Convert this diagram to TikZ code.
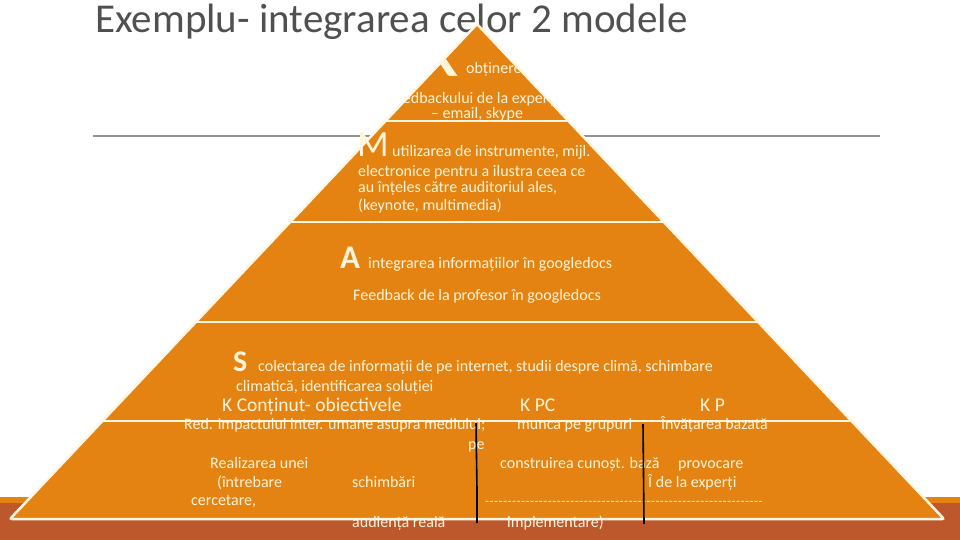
\documentclass[tikz,border=0pt]{standalone}
\usepackage{fontspec}
\setmainfont{Carlito}
\newcommand\myfs[1]{\fontsize{#1}{#1}\selectfont}
\definecolor{pyr}{HTML}{E48312}
\definecolor{bandred}{HTML}{BD582C}
\definecolor{cream}{HTML}{FFF4D8}
\definecolor{outl}{HTML}{FFF7E2}
\definecolor{titlegray}{HTML}{505050}
\tikzset{
  ptxt/.style={inner sep=0pt, anchor=base west, text=cream, font=\myfs{16}},
  bigl/.style={ptxt, font=\myfs{#1}},
  bigb/.style={ptxt, font=\myfs{#1}\bfseries},
  ktxt/.style={ptxt, font=\myfs{19.5}},
  sepline/.style={outl, line width=2.5pt},
  divider/.style={black, line width=1.6pt},
}
\begin{document}
\begin{tikzpicture}[x=1pt,y=-1pt]
\useasboundingbox (0,0) rectangle (960,540);
% bottom band
\fill[pyr] (0,497) rectangle (960,503);
\fill[bandred] (0,503) rectangle (960,540);
% gray rule
\draw[gray!85, line width=1.4pt] (93,136) -- (880,136);
% title
\node[inner sep=0pt, anchor=base west, text=titlegray, font=\myfs{41}] (title) at (95,33) {Exemplu- integrarea celor 2 modele};
% pyramid
\coordinate (apex) at (477,24);
\coordinate (bl) at (10,519);
\coordinate (br) at (944,519);
\fill[pyr, rounded corners=2pt] (apex) -- (br) -- (bl) -- cycle;
% level 1 (clipped to the pyramid)
\begin{scope}
\clip (apex) -- (br) -- (bl) -- cycle;
\node[bigl=90] (R) at (410,77) {\smash{R}};
\node[ptxt] (r1) at (466,74) {obținerea};
\node[ptxt, anchor=base] (r2) at (474,104) {feedbackului de la experți};
\node[ptxt, anchor=base] (r3) at (477,119) {– email, skype};
\end{scope}
% level 2
\node[bigl=37] (M) at (357,157) {M};
\node[ptxt] (m1) at (392,157) {utilizarea de instrumente, mijl.};
\node[ptxt] (m2) at (358,176) {electronice pentru a ilustra ceea ce};
\node[ptxt] (m3) at (358,193) {au înțeles către auditoriul ales,};
\node[ptxt] (m4) at (358,210) {(keynote, multimedia)};
% level 3
\node[bigb=33] (A) at (340,268) {A};
\node[ptxt] (a1) at (368,268) {integrarea informațiilor în googledocs};
\node[ptxt] (a2) at (353,300) {Feedback de la profesor în googledocs};
% level 4
\node[bigb=30] (S) at (233,371) {S};
\node[ptxt] (s1) at (258,371) {colectarea de informații de pe internet, studii despre climă, schimbare};
\node[ptxt] (s2) at (236,391) {climatică, identificarea soluției};
\node[ktxt] (k1) at (222,411) {K Conținut- obiectivele};
\node[ktxt] (k2) at (520,411) {K PC};
\node[ktxt] (k3) at (700,411) {K P};
% level 5
\node[ptxt] (b1) at (184,429) {Red. impactului inter. umane asupra mediului;};
\node[ptxt] (b2) at (517,429) {munca pe grupuri};
\node[ptxt] (b3) at (661,429) {Învățarea bazată};
\node[ptxt] (b4) at (468,449) {pe};
\node[ptxt] (b5) at (210,468) {Realizarea unei};
\node[ptxt] (b6) at (500,468) {construirea cunoșt. bază};
\node[ptxt] (b7) at (678,468) {provocare};
\node[ptxt] (b8) at (217,487) {(întrebare};
\node[ptxt] (b9) at (352,487) {schimbări};
\node[ptxt] (b10) at (648,487) {Î de la experți};
\node[ptxt] (b11) at (191,505) {cercetare,};
\node[ptxt, font=\myfs{13}] (b12) at (485,505) {\makebox[278pt][s]{\xleaders\hbox{-\kern0.5pt}\hfill}};
\node[ptxt] (b13) at (352,527) {audiență reală};
\node[ptxt] (b14) at (507,527) {implementare)};
% separators
\draw[sepline] (385.5,121) -- (568.5,121);
\draw[sepline] (290.2,222) -- (663.8,222);
\draw[sepline] (195.9,322) -- (758.1,322);
\draw[sepline] (102.5,421) -- (851.5,421);
\draw[sepline, rounded corners=2pt] (apex) -- (br) -- (bl) -- cycle;
% hand-drawn dividers
\coordinate (d1t) at (476,423);
\coordinate (d1m) at (477,490);
\coordinate (d1b) at (477,523);
\coordinate (d2t) at (643,424);
\coordinate (d2b) at (644,524);
\draw[divider] (d1t) -- (d1m) -- (d1b);
\draw[divider] (d2t) -- (d2b);
\end{tikzpicture}
\end{document}
